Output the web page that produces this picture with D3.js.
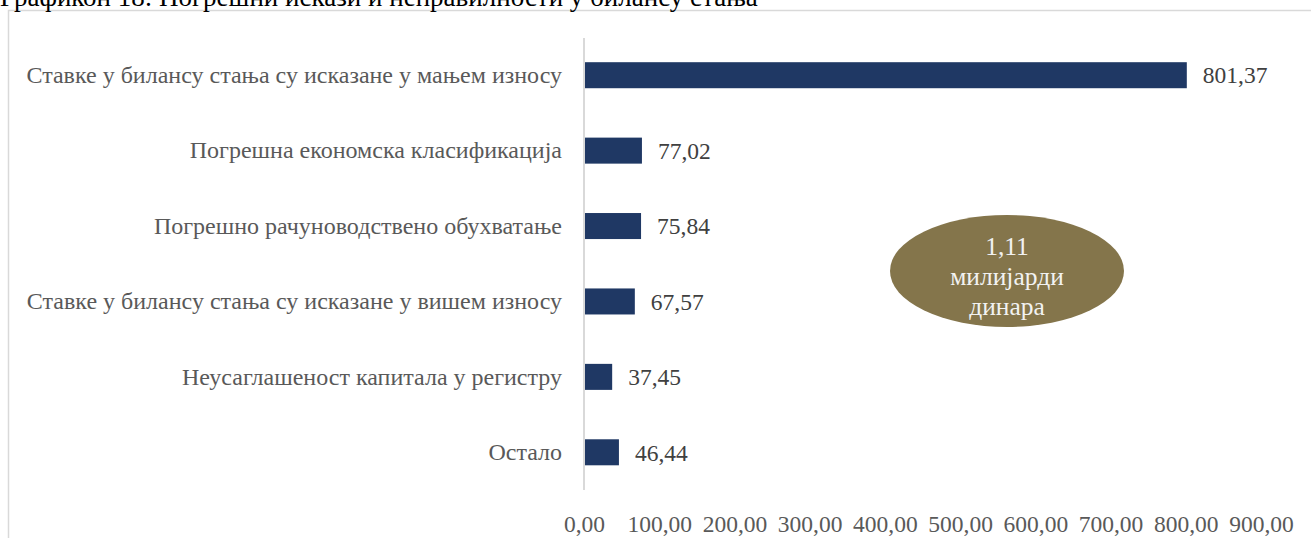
<!DOCTYPE html>
<html><head><meta charset="utf-8">
<script src="https://cdn.jsdelivr.net/npm/d3@7"></script>
<style>
html,body{margin:0;padding:0;background:#fff;overflow:hidden;}
svg{display:block;}
</style></head>
<body>
<svg id="chart" width="1311" height="538"></svg>
<script>
const title = "Графикон 18: Погрешни искази и неправилности у билансу стања";
const categories = [
  "Ставке у билансу стања су исказане у мањем износу",
  "Погрешна економска класификација",
  "Погрешно рачуноводствено обухватање",
  "Ставке у билансу стања су исказане у вишем износу",
  "Неусаглашеност капитала у регистру",
  "Остало"
];
const values = [801.37, 77.02, 75.84, 67.57, 37.45, 46.44];
const tickValues = [0, 100, 200, 300, 400, 500, 600, 700, 800, 900];
const calloutLines = ["1,11", "милијарди", "динара"];

const font = "'Liberation Serif','Times New Roman',serif";
const fmt = v => d3.format(".2f")(v).replace(".", ",");
const svg = d3.select("#chart");

// outer frame
svg.append("rect").attr("x", 8.5).attr("y", 10.5).attr("width", 1400).attr("height", 600)
  .attr("fill", "none").attr("stroke", "#d9d9d9").attr("stroke-width", 1.5);

// title (cut off at top as in the reference)
svg.append("text").attr("x", 0).attr("y", 6).text(title)
  .attr("font-family", font).attr("font-size", 27).attr("fill", "#000");

const x = d3.scaleLinear().domain([0, 900]).range([584, 1261]);
const y = d3.scaleBand().domain(categories).range([37.5, 490]).paddingInner(0.655).paddingOuter(0.3275);

// bars
svg.append("g").selectAll("rect").data(values).join("rect")
  .attr("x", x(0)).attr("y", (d, i) => y(categories[i]))
  .attr("width", d => x(d) - x(0)).attr("height", y.bandwidth())
  .attr("fill", "#1f3864");

// value labels
svg.append("g").selectAll("text").data(values).join("text")
  .attr("x", d => x(d) + 16).attr("y", (d, i) => y(categories[i]) + y.bandwidth() / 2)
  .attr("dy", "0.35em").text(d => fmt(d))
  .attr("font-family", font).attr("font-size", 23.5).attr("fill", "#404040");

// category axis
const yAxis = svg.append("g").attr("transform", `translate(${x(0)},0)`)
  .call(d3.axisLeft(y).tickSize(0).tickPadding(22));
yAxis.select(".domain").attr("stroke", "#d9d9d9").attr("stroke-width", 2)
  .attr("d", "M0,38V490");
yAxis.selectAll("text").attr("font-family", font).attr("font-size", 24).attr("fill", "#595959");

// value axis (labels only)
const xAxis = svg.append("g").attr("transform", "translate(0,490)")
  .call(d3.axisBottom(x).tickValues(tickValues).tickFormat(fmt).tickSize(0).tickPadding(25));
xAxis.select(".domain").remove();
xAxis.selectAll("text").attr("font-family", font).attr("font-size", 23.5).attr("fill", "#595959");

// callout ellipse
const cg = svg.append("g");
cg.append("ellipse").attr("cx", 1007).attr("cy", 271).attr("rx", 117).attr("ry", 56).attr("fill", "#84754b");
cg.selectAll("text").data(calloutLines).join("text")
  .attr("x", 1007).attr("y", (d, i) => 246 + i * 30).attr("dy", "0.35em")
  .attr("text-anchor", "middle").text(d => d)
  .attr("font-family", font).attr("font-size", 25.5).attr("fill", "#f2f2f2");
</script>
</body></html>
